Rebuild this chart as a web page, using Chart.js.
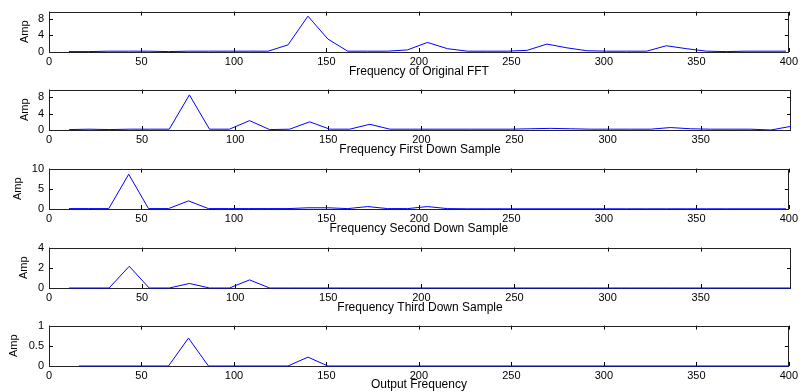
<!DOCTYPE html>
<html>
<head>
<meta charset="utf-8">
<script src="https://cdn.jsdelivr.net/npm/chart.js@4"></script>
<style>
  body { margin: 0; background: #fff; }
  #wrap { position: relative; width: 801px; height: 392px; }
  canvas { position: absolute; left: 0; }
</style>
</head>
<body>
<div id="wrap">
  <canvas id="c1" width="801" height="79" style="top:0px"></canvas>
  <canvas id="c2" width="801" height="79" style="top:78px"></canvas>
  <canvas id="c3" width="801" height="79" style="top:157px"></canvas>
  <canvas id="c4" width="801" height="79" style="top:236px"></canvas>
  <canvas id="c5" width="801" height="78" style="top:314px"></canvas>
</div>
<script>
// frequency bins (Hz)
var freq = [10.8, 21.5, 32.3, 43.1, 53.8, 64.6, 75.4, 86.2, 96.9, 107.7, 118.5, 129.2, 140.0,
  150.8, 161.5, 172.3, 183.1, 193.8, 204.6, 215.4, 226.2, 236.9, 247.7, 258.5, 269.2, 280.0,
  290.8, 301.5, 312.3, 323.1, 333.8, 344.6, 355.4, 366.2, 376.9, 387.7, 398.5]

var ampOriginal = [0.1, 0.1, 0.2, 0.2, 0.2, 0.1, 0.2, 0.2, 0.2, 0.2, 0.2, 1.7, 8.6,
  3.1, 0.2, 0.2, 0.2, 0.5, 2.3, 0.8, 0.2, 0.2, 0.2, 0.4, 1.9, 1.0,
  0.3, 0.2, 0.2, 0.2, 1.5, 0.8, 0.2, 0.1, 0.2, 0.2, 0.2]

var ampFirst = [0.1, 0.2, 0.1, 0.2, 0.2, 0.2, 8.6, 0.2, 0.2, 2.3, 0.1, 0.2, 2.0,
  0.2, 0.2, 1.4, 0.2, 0.2, 0.2, 0.2, 0.2, 0.2, 0.2, 0.3, 0.4, 0.3,
  0.2, 0.2, 0.2, 0.2, 0.6, 0.3, 0.2, 0.2, 0.2, 0.0, 0.9]

var ampSecond = [0.1, 0.1, 0.1, 8.6, 0.1, 0.1, 2.0, 0.1, 0.1, 0.1, 0.1, 0.1, 0.3,
  0.3, 0.1, 0.6, 0.1, 0.1, 0.6, 0.1, 0.05, 0.05, 0.05, 0.05, 0.05, 0.05,
  0.05, 0.05, 0.05, 0.05, 0.05, 0.05, 0.05, 0.05, 0.05, 0.05, 0.05]

var ampThird = [0, 0, 0, 2.15, 0, 0, 0.45, 0, 0, 0.8, 0, 0, 0,
  0, 0, 0, 0, 0, 0, 0, 0, 0, 0, 0, 0, 0,
  0, 0, 0, 0, 0, 0, 0, 0, 0, 0, 0]

var freqOut = [16.2, 64.6, 75.4, 86.2, 129.2, 140.0, 150.8, 400]
var ampOut = [0, 0, 0.69, 0, 0, 0.22, 0, 0]

var xTicksFull = [0, 50, 100, 150, 200, 250, 300, 350, 400]
var xTicksShort = [0, 50, 100, 150, 200, 250, 300, 350]

var fontName = "'Liberation Sans', Arial, sans-serif"

// matlab style box + inward tick marks, drawn under the line
var boxPlugin = {
  id: 'box',
  beforeDatasetsDraw: function (chart) {
    var ctx = chart.ctx, a = chart.chartArea
    var xs = chart.scales.x, ys = chart.scales.y
    var L = 4
    ctx.save()
    ctx.strokeStyle = '#000'
    ctx.lineWidth = 1
    ctx.beginPath()
    xs.ticks.forEach(function (t) {
      var px = Math.round(xs.getPixelForValue(t.value)) + 0.5
      ctx.moveTo(px, a.bottom); ctx.lineTo(px, a.bottom - L)
      ctx.moveTo(px, a.top); ctx.lineTo(px, a.top + L)
    })
    ys.ticks.forEach(function (t) {
      var py = Math.round(ys.getPixelForValue(t.value)) + 0.5
      ctx.moveTo(a.left, py); ctx.lineTo(a.left + L, py)
      ctx.moveTo(a.right, py); ctx.lineTo(a.right - L, py)
    })
    ctx.stroke()
    ctx.strokeStyle = '#222'
    ctx.strokeRect(Math.round(a.left) + 0.5, Math.round(a.top) + 0.5,
      Math.round(a.right - a.left) - 1, Math.round(a.bottom - a.top))
    ctx.restore()
  }
}

function makePlot(id, xs, ys, xMax, xTicks, yMax, yTicks, xTitle, yTitlePad, axisH) {
  var pts = xs.map(function (x, i) { return { x: x, y: ys[i] } })
  new Chart(document.getElementById(id), {
    type: 'line',
    data: {
      datasets: [{
        data: pts,
        borderColor: '#0000ff',
        borderWidth: 1,
        pointRadius: 0,
        tension: 0,
        fill: false,
        clip: 2
      }]
    },
    options: {
      responsive: false,
      animation: false,
      devicePixelRatio: 1,
      layout: { padding: { top: 7, right: 10, left: 0, bottom: 0 }, autoPadding: false },
      plugins: { legend: { display: false }, tooltip: { enabled: false } },
      scales: {
        x: {
          type: 'linear',
          min: 0,
          max: xMax,
          grid: { display: false, drawTicks: false },
          border: { display: false },
          afterBuildTicks: function (axis) { axis.ticks = xTicks.map(function (v) { return { value: v } }) },
          afterFit: function (axis) { axis.height = axisH },
          ticks: { color: '#000', padding: 3, maxRotation: 0, font: { family: fontName, size: 11 },
            callback: function (v) { return String(v) } },
          title: { display: true, text: xTitle, color: '#000', padding: { top: 0, bottom: 0 },
            font: { family: fontName, size: 12 } }
        },
        y: {
          min: 0,
          max: yMax,
          grid: { display: false, drawTicks: false },
          border: { display: false },
          afterBuildTicks: function (axis) { axis.ticks = yTicks.map(function (v) { return { value: v } }) },
          afterFit: function (axis) { axis.width = 49 },
          ticks: { color: '#000', padding: 5, font: { family: fontName, size: 11 },
            callback: function (v) { return String(v) } },
          title: { display: true, text: 'Amp', color: '#000', padding: { top: yTitlePad, bottom: 0 },
            font: { family: fontName, size: 11 } }
        }
      }
    },
    plugins: [boxPlugin]
  })
}

makePlot('c1', freq, ampOriginal, 400, xTicksFull, 9.7, [0, 2, 4, 6, 8], 'Frequency of Original FFT', 18, 27)
makePlot('c2', freq, ampFirst, 398.5, xTicksShort, 9.9, [0, 2, 4, 6, 8], 'Frequency First Down Sample', 18, 27)
makePlot('c3', freq, ampSecond, 400, xTicksFull, 10, [0, 5, 10], 'Frequency Second Down Sample', 11, 27)
makePlot('c4', freq, ampThird, 398.5, xTicksShort, 4, [0, 2, 4], 'Frequency Third Down Sample', 17, 27)
makePlot('c5', freqOut, ampOut, 400, xTicksFull, 1, [0, 0.5, 1], 'Output Frequency', 7, 26)
</script>
</body>
</html>
